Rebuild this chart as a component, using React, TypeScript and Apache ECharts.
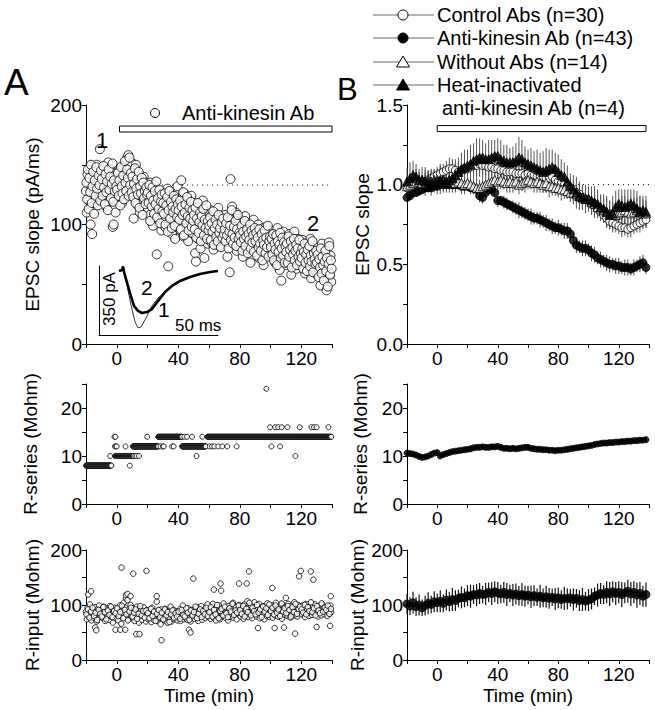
import React, { useEffect, useRef } from "react";
import * as echarts from "echarts";

const FONT = '"Liberation Sans", Arial, Helvetica, sans-serif';

// ---------- Panel A (single cell) ----------
// EPSC slope (pA/ms): two interleaved sweeps, each every 0.5 min
const A_START = -20;
const A_START2 = -19.75;
const A_STEP = 0.5;
const epscA = [
  128,110,142,135,120,148,100,131,92,138,125,145,118,133,150,127,139,122,163,134,
  126,144,119,137,148,130,115,141,124,152,133,121,146,128,139,98,100,135,125,143,
  120,138,131,145,127,122,140,118,147,133,136,150,125,155,142,158,130,148,137,152,
  128,145,105,139,121,150,133,116,142,127,110,136,124,131,118,140,112,129,135,120,
  114,130,122,108,135,117,126,99,121,133,110,125,75,116,104,128,112,119,95,123,
  106,127,115,98,120,111,130,65,108,118,102,125,92,113,121,104,88,117,109,132,
  100,122,111,95,137,107,118,90,126,104,113,97,121,86,109,116,102,124,93,110,
  105,118,76,69,112,98,88,115,101,80,109,94,120,103,72,111,96,107,84,99,
  102,91,112,85,98,108,79,95,110,88,101,93,114,82,97,106,90,103,87,96,
  92,108,85,99,73,104,95,60,138,89,115,97,83,101,90,110,78,94,105,88,
  95,81,102,89,73,98,86,107,92,79,96,84,101,88,68,93,99,82,104,87,
  90,77,96,84,100,72,88,93,79,85,97,66,91,82,98,75,87,94,80,89,
  84,95,73,88,79,92,68,86,81,97,76,90,62,83,53,87,78,94,71,85,
  80,66,89,75,92,71,83,58,77,86,69,94,74,81,63,79,88,70,84,72,
  76,65,87,70,82,59,74,68,85,62,78,71,88,55,73,66,80,64,76,69,
  72,58,81,63,75,49,68,84,60,71,55,77,66,45,70,62,85,57,74,52,
];
const epscA2 = [
  135,121,146,113,139,127,150,118,132,144,109,137,124,148,130,116,141,133,120,145,
  138,124,149,131,117,142,127,136,112,146,129,140,122,134,151,119,137,128,110,132,
  129,143,124,137,116,148,132,126,141,121,153,135,128,146,139,124,156,133,143,127,
  140,123,134,147,118,130,138,125,144,114,132,126,139,108,135,122,128,117,131,125,
  127,118,133,103,124,115,131,120,109,128,117,136,106,122,113,129,101,119,125,111,
  118,109,126,100,116,123,94,112,128,105,119,97,115,110,124,99,113,121,106,117,
  112,104,120,96,115,108,127,91,110,117,101,123,107,95,114,105,119,98,112,103,
  108,96,114,89,105,118,93,102,110,86,107,99,113,91,104,97,116,88,103,95,
  99,106,87,101,94,111,83,97,104,90,100,86,108,93,97,81,102,89,105,92,
  96,86,101,91,106,80,94,99,87,112,92,84,98,89,103,82,96,108,88,93,
  91,85,99,78,94,88,103,82,90,96,76,92,87,100,80,95,85,91,77,97,
  86,93,74,89,81,96,84,78,92,70,87,83,95,76,89,81,99,73,86,90,
  81,88,75,92,70,84,79,91,66,86,77,83,93,72,80,89,74,85,68,82,
  77,84,68,90,73,79,86,64,81,75,88,70,78,83,66,80,73,87,69,76,
  72,80,63,77,84,68,75,61,79,70,82,65,74,69,86,60,76,71,67,78,
  68,75,56,71,64,80,59,73,66,53,69,78,61,72,48,67,82,58,70,63,
];
const epscBaselineA = 133;

// R-series (Mohm): quantised levels [from min, to min, level] and isolated readings [min, level]
const rsRunsA = [
  [-20, -3.5, 8],
  [-1, 11, 10],
  [10.5, 27, 12],
  [27, 42, 14],
  [42.5, 58, 12],
  [59, 139.5, 14],
];
const rsOutA = [
  [-4.3,10],[-1.5,14],[-0.8,14],[-1.2,12],[-0.5,12],[0,12],[5.7,12],[8.5,8],[12,10],[13,10],[14.5,10],
  [19.8,14],[28.5,12],[30,12],[30.6,12],[36,12],[37,12],[42.5,14],[44,14],[45.7,14],[49,14],[51.9,10],
  [55.6,14],[60.5,12],[62,12],[63.5,12],[66,12],[68.6,12],[71.9,12],[78,12],[97.3,24],[99.7,16],[103,16],
  [105,16],[107.3,16],[111,16],[119,16],[126.6,16],[128.3,16],[130,16],[137.7,16],[100.6,12],[106.2,12],[116.2,10],
];

// R-input (Mohm): sweep every 0.5 min from -20, second sweep every 1 min from -19.75
const RIN_STEP2 = 1;
const rinA = [
  88,74,95,82,79,101,90,72,85,93,77,88,96,81,70,92,86,99,78,84,
  91,83,76,97,88,71,85,94,80,89,73,98,86,79,92,68,87,95,82,76,
  84,93,72,88,99,81,66,90,85,104,78,95,112,87,109,74,92,83,100,79,
  86,77,94,71,89,82,97,75,88,68,93,80,91,73,85,96,78,87,70,90,
  82,74,91,77,86,69,95,81,73,88,79,84,106,71,90,76,83,65,92,78,
  80,87,72,93,76,84,68,89,81,75,97,70,86,79,91,74,83,77,88,72,
  85,78,92,71,87,80,99,74,83,90,76,88,73,94,81,86,70,91,79,84,
  89,75,93,82,77,96,71,88,84,79,98,73,87,81,92,76,90,83,101,78,
  86,94,75,89,81,102,77,91,84,72,96,80,88,99,74,87,93,79,85,103,
  82,95,76,90,87,72,98,84,79,92,86,104,77,89,83,96,74,91,85,100,
  88,79,97,83,92,75,101,86,90,81,107,78,94,87,83,99,76,92,88,105,
  84,96,79,91,87,102,76,93,89,82,98,85,74,95,88,80,103,86,92,78,
  90,85,99,77,94,88,81,104,86,92,79,97,89,84,101,75,93,87,96,82,
  88,95,80,102,86,91,77,98,84,93,89,105,81,96,87,79,100,92,85,97,
  91,83,99,87,94,78,102,89,85,96,80,93,88,104,82,97,90,86,101,84,
  93,87,79,98,85,92,81,100,88,95,83,90,97,86,80,94,89,84,99,87,
];
const rinA2 = [
  83,92,77,88,95,80,86,73,91,84,79,96,87,74,90,82,97,78,89,85,
  94,80,87,99,76,91,83,72,88,95,79,86,92,75,84,98,81,89,77,90,
  85,76,93,80,88,71,84,91,78,86,74,92,81,87,69,83,90,77,85,79,
  88,75,91,82,79,94,86,73,90,81,87,97,76,84,92,78,89,83,95,80,
  87,96,79,91,83,100,76,89,93,81,97,85,78,94,88,102,82,90,86,99,
  91,84,98,79,93,87,104,81,95,89,83,100,86,92,78,97,88,94,82,101,
  89,95,83,99,86,92,80,103,88,94,85,98,91,79,96,87,102,84,93,97,
  92,86,100,83,96,89,105,87,94,81,98,90,85,103,88,95,91,99,84,93,
];
const rinOutA = [
  [-18.6,119],[-16.7,125],[-14,59],[-13.3,54],[3.1,168],[10.7,157],[19.3,162],[-0.8,55],[2.3,55],[5.5,55],
  [12.7,47],[14.8,47],[29.1,36],[26,116],[6,118],[7,120],[9,116],[49.8,148],[47,55],[48,50],[63.2,128],
  [67.5,139],[67.9,126],[79.5,139],[84.5,139],[86,161],[91.9,58],[101.2,131],[102.7,58],[108.8,59],[110,113],
  [119.7,162],[118.6,152],[116,48],[126.2,161],[127.9,146],[130,60],[139.2,116],[138.8,62],
];

// Inset traces (ms, pA)
const traceT2 = [16.8,19.3,20.2,21,22.7,26.1,29.4,32.8,36.1,40.3,44.5,49.6,55.5,61.3,68.1,76.5,84.9,93.3,100];
const trace2 = [-27,-21,-2,-32,-70,-145,-214,-241,-252,-247,-231,-188,-139,-107,-80,-59,-43,-32,-27];
const traceT1 = [16.8,19.3,20.2,21,23.5,26.9,30.3,32.8,35.3,39.5,44.5,49.6,55.5];
const trace1 = [-27,-21,-2,-32,-102,-209,-300,-332,-327,-279,-214,-172,-139];

// ---------- Panel B (group means, every 2 min from -20 min) ----------
const B_START = -20;
const B_STEP = 2;
const controlAbs = [
  0.98,0.99,1.00,1.01,1.01,1.02,1.02,1.03,1.04,1.05,
  1.06,1.07,1.08,1.09,1.10,1.10,1.09,1.08,1.09,1.10,
  1.10,1.11,1.12,1.12,1.13,1.12,1.12,1.11,1.11,1.10,
  1.10,1.09,1.09,1.08,1.08,1.08,1.07,1.07,1.07,1.06,
  1.07,1.06,1.06,1.05,1.05,1.05,1.04,1.04,1.05,1.03,
  1.02,1.01,1.00,0.99,0.98,0.97,0.95,0.94,0.92,0.91,
  0.90,0.88,0.87,0.85,0.83,0.81,0.79,0.77,0.76,0.75,
  0.74,0.73,0.73,0.72,0.73,0.74,0.75,0.76,0.77,0.78,
];
const controlErr = [
  0.05,0.04,0.05,0.06,0.05,0.04,0.05,0.05,0.06,0.05,0.05,0.06,0.05,0.06,0.07,0.06,0.05,0.06,0.05,0.06,
  0.06,0.07,0.06,0.05,0.06,0.07,0.06,0.05,0.06,0.06,0.05,0.06,0.07,0.06,0.05,0.06,0.05,0.06,0.06,0.05,
  0.06,0.05,0.06,0.05,0.06,0.06,0.05,0.06,0.05,0.06,0.05,0.06,0.05,0.05,0.06,0.05,0.06,0.05,0.06,0.05,
  0.05,0.06,0.05,0.06,0.05,0.05,0.06,0.05,0.06,0.05,0.05,0.06,0.05,0.05,0.06,0.05,0.05,0.06,0.05,0.05,
];
const antiKinesin = [
  0.92,0.93,0.95,0.95,0.96,0.97,0.98,0.98,0.98,0.99,
  0.99,1.00,1.00,1.00,1.00,1.00,1.00,1.00,0.99,0.99,
  0.99,0.98,0.98,0.97,0.93,0.92,0.95,0.97,0.97,0.95,
  0.90,0.90,0.89,0.88,0.87,0.86,0.85,0.84,0.83,0.82,
  0.81,0.80,0.79,0.79,0.78,0.77,0.76,0.75,0.74,0.73,
  0.73,0.72,0.71,0.71,0.69,0.65,0.62,0.61,0.60,0.60,
  0.59,0.57,0.56,0.54,0.53,0.52,0.51,0.50,0.50,0.49,
  0.49,0.48,0.48,0.48,0.47,0.48,0.49,0.50,0.51,0.48,
];
const antiErr = [
  0.02,0.02,0.03,0.02,0.02,0.02,0.03,0.02,0.02,0.02,0.02,0.02,0.03,0.02,0.02,0.03,0.02,0.02,0.03,0.02,
  0.03,0.03,0.02,0.03,0.04,0.04,0.03,0.03,0.04,0.03,0.04,0.03,0.04,0.04,0.03,0.04,0.04,0.05,0.04,0.04,
  0.04,0.05,0.04,0.04,0.05,0.04,0.05,0.04,0.05,0.04,0.05,0.04,0.05,0.05,0.04,0.05,0.05,0.04,0.05,0.05,
  0.04,0.05,0.05,0.04,0.05,0.04,0.05,0.05,0.04,0.05,0.05,0.04,0.05,0.05,0.04,0.05,0.04,0.05,0.05,0.04,
];
const withoutAbs = [
  0.99,1.00,1.01,1.02,1.02,1.01,1.02,1.03,1.02,1.03,
  1.03,1.02,1.03,1.02,1.03,1.02,1.01,1.02,1.01,1.00,
  1.01,1.00,0.99,0.98,0.98,0.99,1.00,1.01,1.02,1.03,
  1.02,1.03,1.02,1.01,1.02,1.01,1.02,1.00,1.01,1.02,
  1.03,1.02,1.01,1.02,1.01,1.00,1.01,0.99,0.99,0.98,
  0.98,0.97,0.97,0.96,0.95,0.95,0.94,0.93,0.92,0.91,
  0.91,0.89,0.88,0.86,0.85,0.84,0.83,0.82,0.82,0.81,
  0.82,0.83,0.84,0.83,0.82,0.83,0.84,0.83,0.82,0.82,
];
const withoutErr = [
  0.06,0.07,0.06,0.08,0.06,0.05,0.07,0.06,0.05,0.06,0.05,0.06,0.07,0.05,0.06,0.05,0.06,0.05,0.07,0.06,
  0.05,0.06,0.05,0.06,0.05,0.06,0.07,0.06,0.05,0.06,0.07,0.06,0.05,0.06,0.07,0.06,0.05,0.06,0.05,0.07,
  0.06,0.05,0.06,0.07,0.06,0.05,0.06,0.07,0.06,0.05,0.06,0.07,0.06,0.05,0.06,0.07,0.06,0.08,0.07,0.06,
  0.07,0.08,0.07,0.06,0.08,0.07,0.09,0.08,0.07,0.09,0.08,0.10,0.09,0.08,0.10,0.09,0.08,0.10,0.09,0.08,
];
const heatInact = [
  1.02,1.04,1.06,1.05,1.03,1.03,1.02,1.02,1.01,1.02,
  1.02,1.03,1.03,1.02,1.03,1.04,1.06,1.08,1.10,1.11,
  1.12,1.13,1.15,1.16,1.17,1.17,1.16,1.16,1.17,1.18,
  1.18,1.16,1.15,1.14,1.14,1.14,1.15,1.17,1.16,1.14,
  1.13,1.12,1.11,1.10,1.09,1.08,1.09,1.10,1.11,1.10,
  1.08,1.06,1.05,1.02,0.99,0.97,0.95,0.93,0.92,0.91,
  0.91,0.90,0.89,0.88,0.86,0.85,0.83,0.81,0.82,0.86,
  0.88,0.87,0.86,0.87,0.88,0.87,0.85,0.83,0.84,0.83,
];
const heatErr = [
  0.08,0.10,0.09,0.08,0.07,0.08,0.09,0.07,0.08,0.07,0.08,0.09,0.08,0.07,0.08,0.09,0.10,0.09,0.10,0.11,
  0.10,0.12,0.11,0.13,0.12,0.11,0.10,0.12,0.11,0.10,0.11,0.12,0.10,0.11,0.09,0.10,0.11,0.13,0.12,0.10,
  0.09,0.11,0.10,0.12,0.11,0.13,0.14,0.12,0.11,0.10,0.11,0.10,0.09,0.10,0.08,0.09,0.10,0.09,0.08,0.09,
  0.08,0.09,0.10,0.09,0.08,0.09,0.10,0.09,0.11,0.10,0.09,0.10,0.11,0.10,0.09,0.10,0.11,0.10,0.09,0.10,
];
const rSeriesB = [
  10.6,10.5,10.4,10.2,9.9,9.7,9.8,10.0,10.3,10.6,
  10.7,10.0,10.3,10.5,10.7,10.9,11.0,11.1,11.2,11.3,
  11.4,11.5,11.7,11.8,11.8,11.9,11.8,11.8,11.9,11.9,
  12.0,11.8,11.6,11.6,11.5,11.6,11.5,11.6,11.7,11.8,
  11.8,11.6,11.5,11.4,11.4,11.3,11.3,11.2,11.2,11.1,
  11.2,11.2,11.3,11.4,11.5,11.6,11.7,11.8,11.9,12.0,
  12.1,12.2,12.4,12.5,12.6,12.7,12.7,12.8,12.8,12.9,
  12.9,13.0,13.0,13.1,13.1,13.2,13.2,13.3,13.3,13.4,
];
const rSeriesBErr = [
  0.4,0.5,0.4,0.5,0.4,0.5,0.4,0.4,0.5,0.4,0.5,0.4,0.5,0.4,0.5,0.4,0.4,0.5,0.4,0.5,
  0.4,0.5,0.4,0.4,0.5,0.4,0.5,0.4,0.5,0.4,0.4,0.5,0.4,0.5,0.4,0.5,0.4,0.4,0.5,0.4,
  0.5,0.4,0.5,0.4,0.4,0.5,0.4,0.5,0.4,0.5,0.4,0.5,0.4,0.5,0.4,0.4,0.5,0.4,0.5,0.4,
  0.5,0.4,0.5,0.4,0.5,0.5,0.4,0.5,0.5,0.4,0.5,0.5,0.4,0.5,0.5,0.4,0.5,0.5,0.4,0.5,
];
const rInputB = [
  102,98,104,97,100,95,99,103,101,106,
  104,107,103,109,106,110,108,112,114,113,
  117,116,119,118,121,119,120,123,121,124,
  122,120,123,119,121,118,120,117,119,116,
  118,115,117,114,116,113,115,112,114,111,
  113,110,112,111,113,110,112,108,110,107,
  109,111,116,118,121,119,123,120,124,121,
  123,119,122,125,120,123,118,121,116,119,
];
const rInputBErr = [
  18,16,20,17,19,15,18,20,16,19,17,20,16,19,18,21,19,16,20,17,
  19,21,17,20,19,16,20,18,21,19,20,17,19,21,16,20,19,18,21,19,
  17,20,19,16,21,17,20,19,16,20,19,17,21,19,16,20,17,19,21,17,
  20,19,16,21,19,17,20,22,19,21,20,23,19,21,22,20,23,21,19,22,
];
const baselineB = 1.0;

// treatment bars: [start min, end min]
const barA = [1.8, 140];
const barB = [0, 138];

const xTicks = [0, 40, 80, 120];

function pairs(start: number, step: number, vals: number[]) {
  return vals.map((v, i) => [start + i * step, v]);
}

function expandRuns(runs: number[][]) {
  const out: number[][] = [];
  runs.forEach(([a, b, lvl]) => {
    for (let t = a; t <= b + 1e-9; t += 0.25) out.push([t, lvl]);
  });
  return out;
}

function errSeries(gi: number, start: number, step: number, vals: number[], errs: number[], color: string, width = 1) {
  return {
    type: "custom",
    xAxisIndex: gi,
    yAxisIndex: gi,
    silent: true,
    z: 1,
    data: vals.map((v, i) => [start + i * step, v, errs[i]]),
    encode: { x: 0, y: 1 },
    renderItem: (_p: any, api: any) => {
      const x = api.value(0);
      const y = api.value(1);
      const e = api.value(2);
      const p1 = api.coord([x, y - e]);
      const p2 = api.coord([x, y + e]);
      return {
        type: "line",
        shape: { x1: p1[0], y1: p1[1], x2: p2[0], y2: p2[1] },
        style: { stroke: color, lineWidth: width },
      };
    },
  };
}

function xAx(gi: number, withName: boolean) {
  return {
    type: "value",
    gridIndex: gi,
    min: -20,
    max: 140,
    interval: 20,
    axisLine: { show: true, onZero: false, lineStyle: { color: "#000", width: 1 } },
    axisTick: { show: true, inside: false, length: 4, lineStyle: { color: "#000" } },
    axisLabel: {
      color: "#000",
      fontSize: 19,
      fontFamily: FONT,
      margin: 5,
      formatter: (v: number) => (xTicks.includes(v) ? String(v) : ""),
    },
    splitLine: { show: false },
    name: withName ? "Time (min)" : "",
    nameLocation: "middle",
    nameGap: 26,
    nameTextStyle: { color: "#000", fontSize: 19, fontFamily: FONT },
  };
}

function yAx(gi: number, min: number, max: number, interval: number, fmt: (v: number) => string, name: string, gap: number) {
  return {
    type: "value",
    gridIndex: gi,
    min,
    max,
    interval,
    axisLine: { show: true, onZero: false, lineStyle: { color: "#000", width: 1 } },
    axisTick: { show: true, inside: false, length: 4, lineStyle: { color: "#000" } },
    axisLabel: { color: "#000", fontSize: 19, fontFamily: FONT, margin: 4, formatter: fmt },
    splitLine: { show: false },
    name,
    nameLocation: "middle",
    nameRotate: 90,
    nameGap: gap,
    nameTextStyle: { color: "#000", fontSize: 19, fontFamily: FONT },
  };
}

const fmt100 = (v: number) => (v % 100 === 0 ? String(v) : "");
const fmt10 = (v: number) => (v % 10 === 0 ? String(v) : "");
const fmtHalf = (v: number) => (Math.round(v * 4) % 2 === 0 ? v.toFixed(1) : "");

const openSym = { color: "#fff", borderColor: "#000", borderWidth: 1 };
const fillSym = { color: "#000", borderColor: "#000", borderWidth: 1 };

function buildOption() {
  const txt = (text: string, x: number, y: number, size: number, extra: any = {}) => ({
    type: "text",
    x,
    y,
    z: 100,
    ...extra,
    style: { text, x: 0, y: 0, fill: "#000", font: `${size}px ${FONT}`, align: "left", verticalAlign: "middle", ...(extra.style || {}) },
  });
  const legendRows = [
    { y: 15, name: "Control Abs (n=30)", shape: "circle", fill: "#fff" },
    { y: 38, name: "Anti-kinesin Ab (n=43)", shape: "circle", fill: "#000" },
    { y: 62, name: "Without Abs (n=14)", shape: "tri", fill: "#fff" },
    { y: 85, name: "Heat-inactivated", shape: "tri", fill: "#000" },
  ];
  const graphics: any[] = [];
  legendRows.forEach((r) => {
    graphics.push({ type: "line", z: 100, shape: { x1: 373, y1: r.y, x2: 434, y2: r.y }, style: { stroke: "#666", lineWidth: 1 } });
    if (r.shape === "circle") {
      graphics.push({ type: "circle", z: 101, shape: { cx: 403, cy: r.y, r: 5 }, style: { fill: r.fill, stroke: "#000", lineWidth: 1 } });
    } else {
      graphics.push({
        type: "polygon",
        z: 101,
        shape: { points: [[403, r.y - 6], [396.5, r.y + 5], [409.5, r.y + 5]] },
        style: { fill: r.fill, stroke: "#000", lineWidth: 1 },
      });
    }
    graphics.push(txt(r.name, 437, r.y, 20));
  });
  graphics.push(txt("anti-kinesin Ab (n=4)", 442, 108, 20));
  graphics.push(txt("A", 4, 82, 37));
  graphics.push(txt("B", 337, 89, 31));
  graphics.push({ type: "circle", z: 101, shape: { cx: 155, cy: 113, r: 4.5 }, style: { fill: "#fff", stroke: "#000", lineWidth: 1 } });
  graphics.push(txt("Anti-kinesin Ab", 182, 113, 20));
  graphics.push(txt("1", 96, 140, 22));
  graphics.push(txt("2", 307, 223, 22));
  graphics.push(txt("2", 141, 287, 21));
  graphics.push(txt("1", 158, 309, 21));
  graphics.push(txt("50 ms", 175, 325, 17));
  graphics.push({
    type: "text",
    x: 109,
    y: 299,
    rotation: Math.PI / 2,
    z: 100,
    style: { text: "350 pA", x: 0, y: 0, fill: "#000", font: `17px ${FONT}`, align: "center", verticalAlign: "middle" },
  });

  const rsA = expandRuns(rsRunsA).concat(rsOutA);
  const rinAll = pairs(A_START, A_STEP, rinA).concat(pairs(A_START2, RIN_STEP2, rinA2)).concat(rinOutA);
  const epscAll = pairs(A_START, A_STEP, epscA).concat(pairs(A_START2, A_STEP, epscA2));

  return {
    animation: false,
    backgroundColor: "#fff",
    textStyle: { fontFamily: FONT },
    grid: [
      { left: 86, top: 105, width: 246, height: 239 },
      { left: 86, top: 384, width: 246, height: 120 },
      { left: 86, top: 550, width: 246, height: 110 },
      { left: 407, top: 105, width: 242, height: 239 },
      { left: 407, top: 384, width: 242, height: 120 },
      { left: 407, top: 550, width: 242, height: 110 },
      { left: 99, top: 266, width: 119, height: 69 },
    ],
    xAxis: [
      xAx(0, false),
      xAx(1, false),
      xAx(2, true),
      xAx(3, false),
      xAx(4, false),
      xAx(5, true),
      {
        type: "value", gridIndex: 6, min: 0, max: 100,
        axisLine: { show: true, onZero: false, lineStyle: { color: "#000", width: 1 } },
        axisTick: { show: false }, axisLabel: { show: false }, splitLine: { show: false },
      },
    ],
    yAxis: [
      yAx(0, 0, 200, 50, fmt100, "EPSC slope (pA/ms)", 44),
      yAx(1, 0, 25, 5, fmt10, "R-series (Mohm)", 46),
      yAx(2, 0, 200, 50, fmt100, "R-input (Mohm)", 44),
      yAx(3, 0, 1.5, 0.25, fmtHalf, "EPSC slope", 35),
      yAx(4, 0, 25, 5, fmt10, "R-series (Mohm)", 37),
      yAx(5, 0, 200, 50, fmt100, "R-input (Mohm)", 39),
      {
        type: "value", gridIndex: 6, min: -370, max: 0,
        axisLine: { show: true, onZero: false, lineStyle: { color: "#000", width: 1 } },
        axisTick: { show: false }, axisLabel: { show: false }, splitLine: { show: false },
      },
    ],
    graphic: graphics,
    series: [
      // Panel A, EPSC slope
      {
        type: "line", xAxisIndex: 0, yAxisIndex: 0, symbol: "none", z: 1,
        data: [[10, epscBaselineA], [140, epscBaselineA]],
        lineStyle: { color: "#000", width: 1, type: [1, 4] },
      },
      {
        type: "scatter", xAxisIndex: 0, yAxisIndex: 0, z: 2,
        data: epscAll,
        symbol: "circle", symbolSize: 9, itemStyle: openSym,
        markArea: {
          silent: true,
          itemStyle: { color: "#fff", borderColor: "#000", borderWidth: 1 },
          data: [[{ xAxis: barA[0], yAxis: 177.4 }, { xAxis: barA[1], yAxis: 182.4 }]],
        },
      },
      // inset traces
      {
        type: "line", xAxisIndex: 6, yAxisIndex: 6, symbol: "none", z: 5,
        data: traceT1.map((t, i) => [t, trace1[i]]),
        lineStyle: { color: "#000", width: 0.8 },
      },
      {
        type: "line", xAxisIndex: 6, yAxisIndex: 6, symbol: "none", z: 6,
        data: traceT2.map((t, i) => [t, trace2[i]]),
        lineStyle: { color: "#000", width: 2.6 },
      },
      // Panel A, R-series
      {
        type: "scatter", xAxisIndex: 1, yAxisIndex: 1, data: rsA,
        symbol: "circle", symbolSize: 5, itemStyle: openSym,
      },
      // Panel A, R-input
      {
        type: "scatter", xAxisIndex: 2, yAxisIndex: 2, data: rinAll,
        symbol: "circle", symbolSize: 5.5, itemStyle: openSym,
      },
      // Panel B, EPSC slope
      {
        type: "line", xAxisIndex: 3, yAxisIndex: 3, symbol: "none", z: 1,
        data: [[60, baselineB], [140, baselineB]],
        lineStyle: { color: "#000", width: 1, type: [1, 4] },
        markArea: {
          silent: true,
          itemStyle: { color: "#fff", borderColor: "#000", borderWidth: 1 },
          data: [[{ xAxis: barB[0], yAxis: 1.333 }, { xAxis: barB[1], yAxis: 1.371 }]],
        },
      },
      errSeries(3, B_START, B_STEP, antiKinesin, antiErr, "#444"),
      errSeries(3, B_START, B_STEP, controlAbs, controlErr, "#555"),
      errSeries(3, B_START, B_STEP, withoutAbs, withoutErr, "#555"),
      errSeries(3, B_START, B_STEP, heatInact, heatErr, "#555"),
      {
        type: "scatter", xAxisIndex: 3, yAxisIndex: 3, z: 3, data: pairs(B_START, B_STEP, antiKinesin),
        symbol: "circle", symbolSize: 8, itemStyle: fillSym,
      },
      {
        type: "scatter", xAxisIndex: 3, yAxisIndex: 3, z: 3, data: pairs(B_START, B_STEP, controlAbs),
        symbol: "circle", symbolSize: 8, itemStyle: openSym,
      },
      {
        type: "scatter", xAxisIndex: 3, yAxisIndex: 3, z: 3, data: pairs(B_START, B_STEP, withoutAbs),
        symbol: "triangle", symbolSize: 9, itemStyle: openSym,
      },
      {
        type: "scatter", xAxisIndex: 3, yAxisIndex: 3, z: 3, data: pairs(B_START, B_STEP, heatInact),
        symbol: "triangle", symbolSize: 9, itemStyle: fillSym,
      },
      // Panel B, R-series
      errSeries(4, B_START, B_STEP, rSeriesB, rSeriesBErr, "#000", 1.5),
      {
        type: "scatter", xAxisIndex: 4, yAxisIndex: 4, z: 3, data: pairs(B_START, B_STEP, rSeriesB),
        symbol: "circle", symbolSize: 6, itemStyle: fillSym,
      },
      // Panel B, R-input
      errSeries(5, B_START, B_STEP, rInputB, rInputBErr, "#111", 1.2),
      {
        type: "scatter", xAxisIndex: 5, yAxisIndex: 5, z: 3, data: pairs(B_START, B_STEP, rInputB),
        symbol: "circle", symbolSize: 8, itemStyle: fillSym,
      },
    ],
  };
}

export default function App() {
  const ref = useRef<HTMLDivElement>(null);
  useEffect(() => {
    if (!ref.current) return;
    const chart = echarts.init(ref.current, null, { renderer: "svg" });
    chart.setOption(buildOption() as any);
    return () => chart.dispose();
  }, []);
  return (
    <div
      ref={ref}
      style={{ position: "fixed", left: 0, top: 0, width: 655, height: 710, background: "#fff" }}
    />
  );
}
